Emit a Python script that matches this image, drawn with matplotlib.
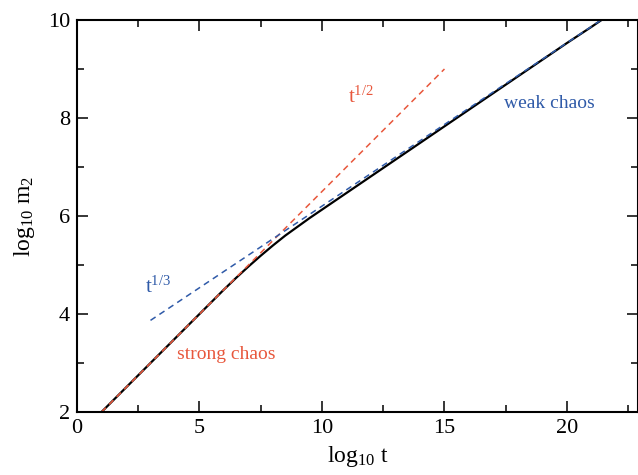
import numpy as np
import matplotlib.pyplot as plt
from matplotlib.ticker import MultipleLocator

plt.rcParams['font.family'] = ['Liberation Serif', 'DejaVu Serif']
plt.rcParams['mathtext.fontset'] = 'custom'
plt.rcParams['mathtext.rm'] = 'Liberation Serif'
plt.rcParams['mathtext.it'] = 'Liberation Serif:italic'

# numerical curve log10 m2 vs log10 t
log_t = [1, 3, 5, 6, 6.5, 7, 7.5, 8, 8.5, 9, 9.5, 10, 10.5, 11, 12, 13, 14,
         15, 16, 17, 18, 19, 20, 21, 22]
log_m2 = [2.0, 3.0, 4.0, 4.5, 4.74, 4.97, 5.19, 5.40, 5.60, 5.78, 5.96, 6.13,
          6.30, 6.47, 6.81, 7.15, 7.49, 7.83, 8.17, 8.51, 8.85, 9.19, 9.53,
          9.86, 10.2]

# reference power laws (x range, y values at ends)
strong_x = [1, 15]
strong_y = [2.0, 9.0]
weak_x = [3, 22]
weak_y = [3.87, 10.2]

red = '#e8573c'
blue = '#2f5aa8'

fig = plt.figure(figsize=(6.38, 4.75), dpi=100)
ax = fig.add_axes([0.1207, 0.1326, 0.8793, 0.8253])

ax.plot(log_t, log_m2, '-', color='black', lw=1.6)
ax.plot(strong_x, strong_y, '--', color=red, lw=1.1, dashes=(4, 3))
ax.plot(weak_x, weak_y, '--', color=blue, lw=1.1, dashes=(4, 3))

ax.text(11.6, 8.43, r'$\mathrm{t}^{1/2}$', color=red, fontsize=15, ha='center', va='center')
ax.text(19.3, 8.3, 'weak chaos', color=blue, fontsize=14, ha='center', va='center')
ax.text(3.3, 4.55, r'$\mathrm{t}^{1/3}$', color=blue, fontsize=15, ha='center', va='center')
ax.text(6.1, 3.17, 'strong chaos', color=red, fontsize=14, ha='center', va='center')

ax.set_xlim(0, 22.9)
ax.set_ylim(2, 10)
ax.xaxis.set_major_locator(MultipleLocator(5))
ax.xaxis.set_minor_locator(MultipleLocator(2.5))
ax.yaxis.set_major_locator(MultipleLocator(2))
ax.yaxis.set_minor_locator(MultipleLocator(1))
ax.tick_params(which='both', direction='in', top=True, right=True, labelsize=16, width=1.1)
ax.tick_params(which='major', length=8, pad=5)
ax.tick_params(which='minor', length=5)
for s in ax.spines.values():
    s.set_linewidth(1.5)

ax.set_xlabel(r'log$_{10}$ t', fontsize=17, labelpad=4)
ax.set_ylabel(r'log$_{10}$ m$_2$', fontsize=17, labelpad=8)

fig.savefig('out.png', dpi=100)
